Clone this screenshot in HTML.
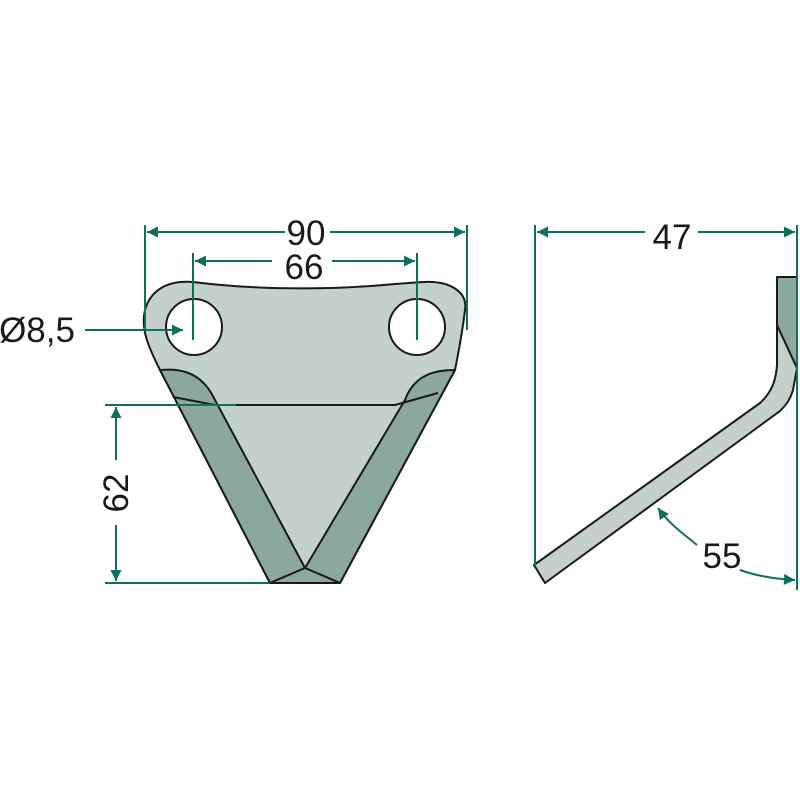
<!DOCTYPE html>
<html><head><style>body{margin:0;background:#fff}svg{display:block}</style></head><body>
<svg width="800" height="800" viewBox="0 0 800 800" xmlns="http://www.w3.org/2000/svg">
<defs>
<marker id="a" viewBox="0 0 10 10" refX="10" refY="5" markerWidth="18" markerHeight="11" markerUnits="userSpaceOnUse" orient="auto"><path d="M0,0 L10,5 L0,10 z" fill="#0e6f5c"/></marker>
</defs>
<g stroke="#1a1a1a" stroke-width="2" stroke-linejoin="round">
<path d="M160,370 C150,350 140,330 145,310 C150,292 165,280 193,282 C240,288 290,289 330,288 C370,287 400,283 425,282 C450,281 468,292 465,310 C462,335 458,355 455,370 L340,583 L270,583 Z" fill="#c3d0cb"/>
<path d="M160,370 C175,369 200,368 215,400 L305,568 L270,583 Z" fill="#8aa89e"/>
<path d="M455,370 C440,370 415,372 405,400 L305,568 L340,583 Z" fill="#8aa89e"/>
<path d="M270,583 L305,568 L340,583 Z" fill="#8aa89e"/>
<path d="M173,397 L215,405 L395,405 L438,393" fill="none"/>
<circle cx="194" cy="327" r="28" fill="#fff"/>
<circle cx="417" cy="327" r="28" fill="#fff"/>
<path d="M797,368 L793,390 C790,400 786,405 780,411 L545,583 L534,565 L760,403 C772,392 776,380 777,365 L777,325 Z" fill="#c3d0cb"/>
<path d="M777,277 L797,277 L797,368 L777,325 Z" fill="#8aa89e"/>
</g>
<g stroke="#0e6f5c" stroke-width="2" fill="none">
<line x1="145" y1="225" x2="145" y2="330"/>
<line x1="467" y1="225" x2="467" y2="330"/>
<line x1="193" y1="253" x2="193" y2="340"/>
<line x1="417" y1="253" x2="417" y2="340"/>
<line x1="285" y1="232" x2="147" y2="232" marker-end="url(#a)"/>
<line x1="330" y1="232" x2="465" y2="232" marker-end="url(#a)"/>
<line x1="272" y1="261" x2="195" y2="261" marker-end="url(#a)"/>
<line x1="332" y1="261" x2="415" y2="261" marker-end="url(#a)"/>
<line x1="85" y1="330" x2="183" y2="330" marker-end="url(#a)"/>
<line x1="105" y1="405" x2="236" y2="405"/>
<line x1="105" y1="583" x2="270" y2="583"/>
<line x1="116" y1="460" x2="116" y2="407" marker-end="url(#a)"/>
<line x1="116" y1="525" x2="116" y2="581" marker-end="url(#a)"/>
<line x1="535" y1="225" x2="535" y2="565"/>
<line x1="797" y1="225" x2="797" y2="590"/>
<line x1="645" y1="232" x2="537" y2="232" marker-end="url(#a)"/>
<line x1="698" y1="232" x2="795" y2="232" marker-end="url(#a)"/>
<path d="M697,545 C685,535 670,525 658,508" marker-end="url(#a)"/>
<path d="M740,570 C760,577 778,579 795,580" marker-end="url(#a)"/>
</g>
<g font-family="Liberation Sans, sans-serif" fill="#1a1a1a" font-size="35" text-anchor="middle">
<text x="306" y="245">90</text>
<text x="304" y="279">66</text>
<text x="37" y="342">Ø8,5</text>
<text x="672" y="249">47</text>
<text x="722" y="568">55</text>
<text transform="translate(128,493) rotate(-90)">62</text>
</g>
</svg>
</body></html>
